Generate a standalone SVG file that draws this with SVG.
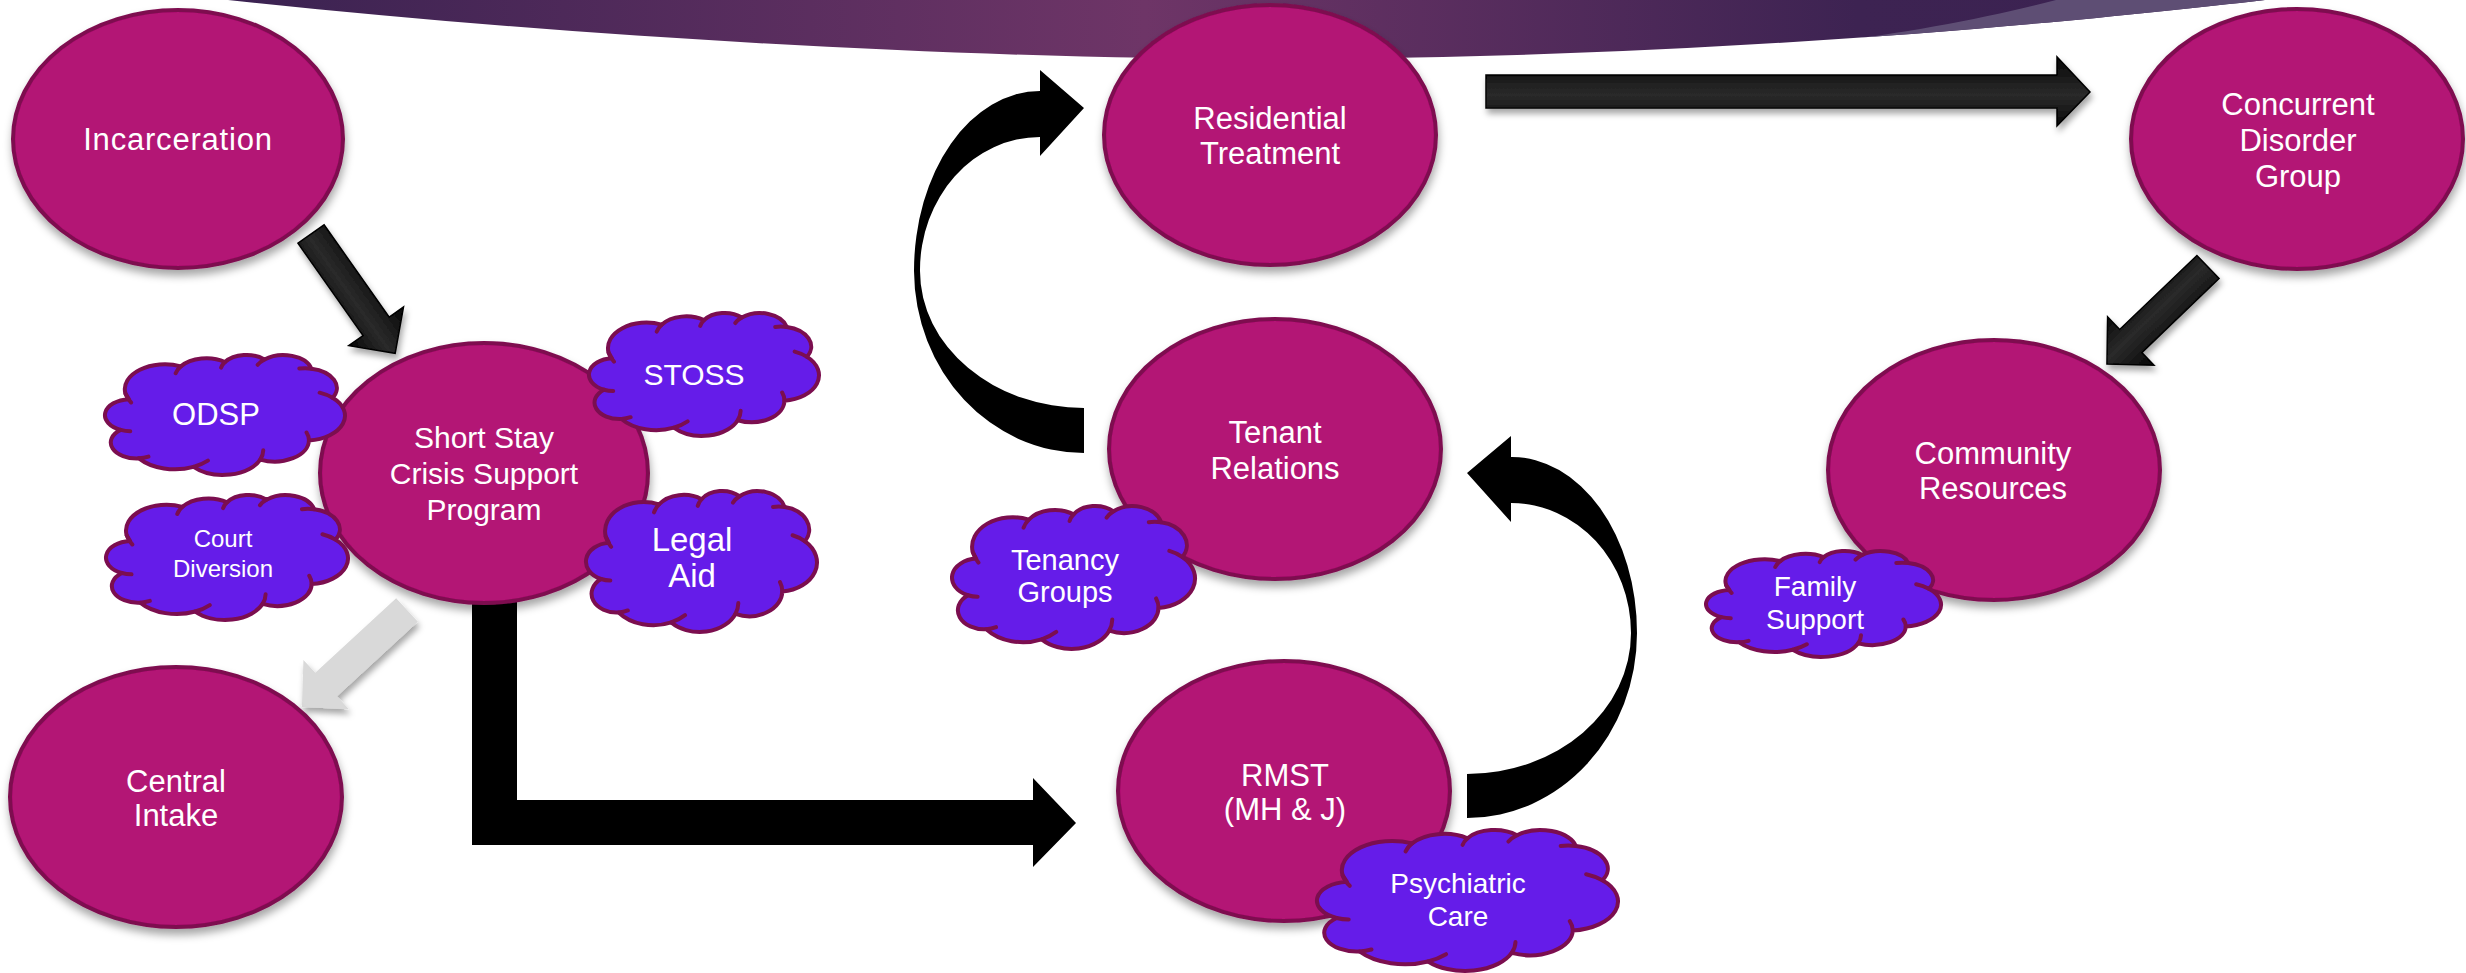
<svg xmlns="http://www.w3.org/2000/svg" width="2466" height="973" viewBox="0 0 2466 973">
<defs>
<style>
.n{fill:#b31274;stroke:#7e0c50;stroke-width:4}
.t{fill:#fff;font-family:"Liberation Sans",Arial,sans-serif;font-size:31px;text-anchor:middle}
.cl{fill:#651ce9;stroke:#7b0e4f;stroke-width:4;vector-effect:non-scaling-stroke;stroke-linejoin:round}
.cll{fill:none;stroke:#7b0e4f;stroke-width:4;vector-effect:non-scaling-stroke;stroke-linecap:round}
.blk{fill:#000}
.dk{fill:url(#ag);stroke:#000;stroke-width:1.5}
</style>
<linearGradient id="band" x1="228" y1="0" x2="2265" y2="0" gradientUnits="userSpaceOnUse">
<stop offset="0" stop-color="#3a2251"/>
<stop offset="0.45" stop-color="#6e3567"/>
<stop offset="0.8" stop-color="#3d2352"/>
<stop offset="1" stop-color="#3a2251"/>
</linearGradient>
<linearGradient id="ag" x1="0" y1="0" x2="0" y2="1">
<stop offset="0" stop-color="#050505"/>
<stop offset="0.35" stop-color="#1e1e1e"/>
<stop offset="0.55" stop-color="#2a2a2a"/>
<stop offset="0.8" stop-color="#181818"/>
<stop offset="1" stop-color="#050505"/>
</linearGradient>
<filter id="sh" x="-20%" y="-20%" width="140%" height="150%">
<feDropShadow dx="1" dy="6" stdDeviation="4" flood-color="#000" flood-opacity="0.35"/>
</filter>
<filter id="ash" x="-20%" y="-20%" width="140%" height="150%">
<feDropShadow dx="2" dy="5" stdDeviation="3" flood-color="#000" flood-opacity="0.35"/>
</filter>
<clipPath id="bandClip">
<path d="M228,0 C600,40 1000,60 1300,59 C1700,57 2050,25 2265,0 Z"/>
</clipPath>
<path id="cloud" class="cl" d="M90.3,332.6 A156.3,212.7 0 0 1 305.8,98.5 A123.5,168.2 0 0 1 478.1,60.8 A101,137.6 0 0 1 631.7,38.9 A112.4,152.7 0 0 1 814.7,117.9 A123.5,168.4 0 0 1 897.1,368 A156.8,213.4 0 0 1 805,734.5 A133.9,182.1 0 0 1 615.3,898 A156.3,213.3 0 0 1 355.4,960.3 A178.7,244.1 0 0 1 142.6,887.3 A100.9,137 0 0 1 71.5,643.2 A100.6,137.6 0 0 1 103.5,379.4 Z"/>
<path id="cloudLines" class="cll" d="M112.1,408.2 A156.3,212.7 0 0 1 90.3,332.6 M285.9,156.7 A123.5,168.2 0 0 1 305.8,98.5 M462.9,109 A101,137.6 0 0 1 478.1,60.8 M605.3,84.8 A112.4,152.7 0 0 1 631.7,38.9 M767.6,117.6 A123.5,168.4 0 0 1 814.7,117.9 M846.7,324 A156.8,213.4 0 0 1 897.1,368 M795.8,666.1 A133.9,182.1 0 0 1 805,734.5 M627.1,818.2 A156.3,213.3 0 0 1 615.3,898 M411.4,907.3 A178.7,244.1 0 0 1 355.4,960.3 M179.7,873 A100.9,137 0 0 1 142.6,887.3 M109,654.3 A100.6,137.6 0 0 1 71.5,643.2"/>
</defs>
<rect width="2466" height="973" fill="#ffffff"/>
<g id="banner">
<path d="M228,0 C600,40 1000,60 1300,59 C1700,57 2050,25 2265,0 Z" fill="url(#band)"/>
<path clip-path="url(#bandClip)" d="M2056,0 C1980,20 1880,38 1780,48 L1780,90 L2300,90 L2300,0 Z" fill="#5e4e74"/>
</g>
<g id="connectors">
<g filter="url(#ash)"><polygon class="dk" transform="translate(311,234) rotate(54.8)" points="0,-16 113,-16 113,-33.5 146,0 113,33.5 113,16 0,16"/></g>
<g filter="url(#ash)"><polygon class="dk" points="1486,75 2057,75 2057,57 2090,92 2057,126 2057,108 1486,108"/></g>
<g filter="url(#ash)"><polygon class="dk" transform="translate(2208,267) rotate(136.2)" points="0,-16 107,-16 107,-33.5 140,0 107,33.5 107,16 0,16"/></g>
<g filter="url(#ash)"><polygon fill="#d9d9d9" transform="translate(407,610) rotate(137.3)" points="0,-16 110,-16 110,-33.5 143,0 110,33.5 110,16 0,16"/></g>
<polygon class="blk" points="472,560 517,560 517,800 1033,800 1033,778 1076,823 1033,867 1033,845 472,845"/>
<path class="blk" d="M1084,453 A170,183 0 0 1 914,271 A126,180 0 0 1 1040,91 L1040,70 L1084,108 L1040,156 L1040,137 A120,133 0 0 0 920,271 A164,137 0 0 0 1084,408 Z"/>
<path class="blk" d="M1467,818 A170,185 0 0 0 1637,633 A125,176 0 0 0 1511,457 L1511,436 L1467,473 L1511,522 L1511,503 A120,130 0 0 1 1631,633 A164,141 0 0 1 1467,774 Z"/>
</g>
<g id="incarceration"><ellipse class="n" filter="url(#sh)" cx="178" cy="139" rx="165" ry="129"/><text class="t" style="letter-spacing:0.8px" x="178" y="150">Incarceration</text></g>
<g id="short-stay"><ellipse class="n" filter="url(#sh)" cx="484" cy="473" rx="164" ry="130"/><text class="t" style="font-size:30px" x="484" y="448">Short Stay</text><text class="t" style="font-size:30px" x="484" y="484">Crisis Support</text><text class="t" style="font-size:30px" x="484" y="520">Program</text></g>
<g id="central-intake"><ellipse class="n" filter="url(#sh)" cx="176" cy="797" rx="166" ry="130"/><text class="t" x="176" y="792">Central</text><text class="t" x="176" y="826">Intake</text></g>
<g id="residential"><ellipse class="n" filter="url(#sh)" cx="1270" cy="135" rx="166" ry="130"/><text class="t" x="1270" y="129">Residential</text><text class="t" x="1270" y="164">Treatment</text></g>
<g id="tenant-relations"><ellipse class="n" filter="url(#sh)" cx="1275" cy="449" rx="166" ry="130"/><text class="t" x="1275" y="443">Tenant</text><text class="t" x="1275" y="479">Relations</text></g>
<g id="rmst"><ellipse class="n" filter="url(#sh)" cx="1284" cy="791" rx="166" ry="130"/><text class="t" x="1285" y="786">RMST</text><text class="t" x="1285" y="820">(MH &amp; J)</text></g>
<g id="concurrent"><ellipse class="n" filter="url(#sh)" cx="2297" cy="139" rx="166" ry="130"/><text class="t" x="2298" y="115">Concurrent</text><text class="t" x="2298" y="151">Disorder</text><text class="t" x="2298" y="187">Group</text></g>
<g id="community"><ellipse class="n" filter="url(#sh)" cx="1994" cy="470" rx="166" ry="130"/><text class="t" x="1993" y="464">Community</text><text class="t" x="1993" y="499">Resources</text></g>
<g id="odsp"><g transform="translate(102.3,354.9) scale(0.25668,0.11658)"><use href="#cloud"/><use href="#cloudLines"/></g><text class="t" style="font-size:31px" x="216" y="425">ODSP</text></g>
<g id="stoss"><g transform="translate(586.4,312.9) scale(0.24599,0.1195)"><use href="#cloud"/><use href="#cloudLines"/></g><text class="t" style="font-size:30px" x="694" y="385">STOSS</text></g>
<g id="court-diversion"><g transform="translate(103.3,494.9) scale(0.25882,0.12144)"><use href="#cloud"/><use href="#cloudLines"/></g><text class="t" style="font-size:24px" x="223" y="547">Court</text><text class="t" style="font-size:24px" x="223" y="577">Diversion</text></g>
<g id="legal-aid"><g transform="translate(583.4,490.9) scale(0.24706,0.13699)"><use href="#cloud"/><use href="#cloudLines"/></g><text class="t" style="font-size:33px" x="692" y="551">Legal</text><text class="t" style="font-size:33px" x="692" y="587">Aid</text></g>
<g id="tenancy-groups"><g transform="translate(949.3,505.9) scale(0.25989,0.13893)"><use href="#cloud"/><use href="#cloudLines"/></g><text class="t" style="font-size:29px" x="1065" y="570">Tenancy</text><text class="t" style="font-size:29px" x="1065" y="602">Groups</text></g>
<g id="psychiatric-care"><g transform="translate(1313.6,829.9) scale(0.32193,0.13699)"><use href="#cloud"/><use href="#cloudLines"/></g><text class="t" style="font-size:28px" x="1458" y="893">Psychiatric</text><text class="t" style="font-size:28px" x="1458" y="926">Care</text></g>
<g id="family-support"><g transform="translate(1703.4,550.9) scale(0.25134,0.10298)"><use href="#cloud"/><use href="#cloudLines"/></g><text class="t" style="font-size:28px" x="1815" y="596">Family</text><text class="t" style="font-size:28px" x="1815" y="629">Support</text></g>
</svg>
